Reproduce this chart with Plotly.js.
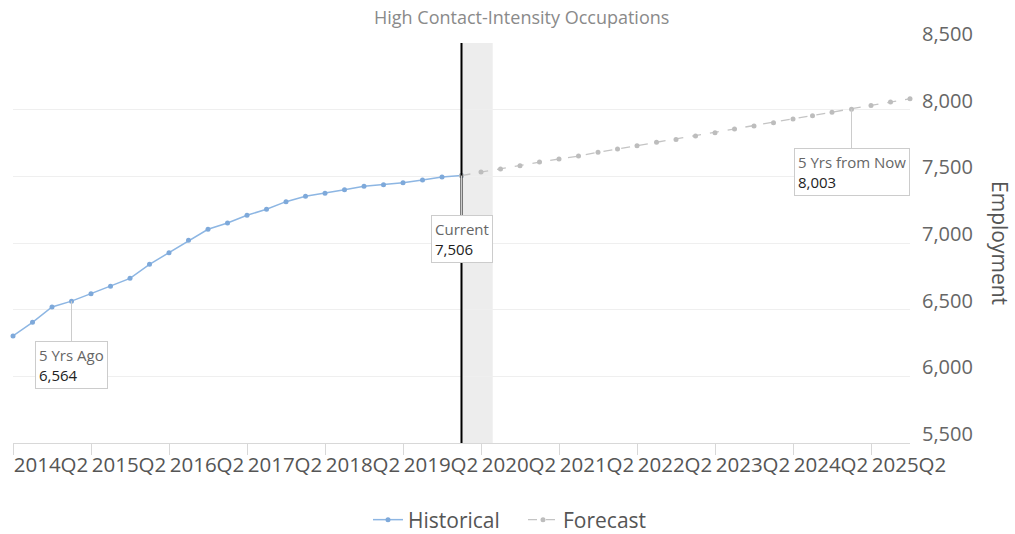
<!DOCTYPE html>
<html>
<head>
<meta charset="utf-8">
<script src="https://cdn.plot.ly/plotly-3.0.1.min.js"></script>
<style>
  html, body { margin: 0; padding: 0; background: #ffffff; }
  #chart { width: 1015px; height: 534px; }
</style>
</head>
<body>
<div id="chart"></div>
<script>
// Quarterly periods shown on the x axis
const quarters = [
  "2014Q2", "2014Q3", "2014Q4", "2015Q1", "2015Q2", "2015Q3", "2015Q4",
  "2016Q1", "2016Q2", "2016Q3", "2016Q4", "2017Q1", "2017Q2", "2017Q3", "2017Q4",
  "2018Q1", "2018Q2", "2018Q3", "2018Q4", "2019Q1", "2019Q2", "2019Q3", "2019Q4",
  "2020Q1", "2020Q2", "2020Q3", "2020Q4", "2021Q1", "2021Q2", "2021Q3", "2021Q4",
  "2022Q1", "2022Q2", "2022Q3", "2022Q4", "2023Q1", "2023Q2", "2023Q3", "2023Q4",
  "2024Q1", "2024Q2", "2024Q3", "2024Q4", "2025Q1", "2025Q2", "2025Q3", "2025Q4"
];

// Historical employment, 2014Q2 through the current quarter
const historicalQuarters = quarters.slice(0, 24);
const historicalValues = [
  6303, 6405, 6520, 6564, 6620, 6675, 6735, 6840, 6927, 7020, 7103, 7150,
  7208, 7253, 7310, 7350, 7373, 7400, 7425, 7437, 7452, 7472, 7495, 7506
];

// Forecast employment, from the current quarter onward
const forecastQuarters = quarters.slice(23);
const forecastValues = [
  7506, 7532, 7555, 7580, 7607, 7630, 7652, 7680, 7705, 7730, 7755, 7777,
  7802, 7827, 7855, 7877, 7902, 7930, 7955, 7980, 8003, 8032, 8057, 8082
];

// Year-interval tick labels
const tickLabels = [
  "2014Q2", "2015Q2", "2016Q2", "2017Q2", "2018Q2", "2019Q2",
  "2020Q2", "2021Q2", "2022Q2", "2023Q2", "2024Q2", "2025Q2"
];

// Callout points: five years back, current quarter, five years ahead
const fiveYrsAgo = { label: "5 Yrs Ago", quarter: historicalQuarters[3], value: historicalValues[3] };
const current = { label: "Current", quarter: historicalQuarters[23], value: historicalValues[23] };
const fiveYrsAhead = { label: "5 Yrs from Now", quarter: forecastQuarters[20], value: forecastValues[20] };

const FONT = "Open Sans, Liberation Sans, sans-serif";
const fmt = v => v.toLocaleString("en-US");

const traces = [
  {
    name: "Historical",
    x: historicalQuarters,
    y: historicalValues,
    type: "scatter",
    mode: "lines+markers",
    line: { color: "#8db6e3", width: 1.5 },
    marker: { color: "#7ea9da", size: 5 },
    cliponaxis: false,
    hoverinfo: "x+y"
  },
  {
    name: "Forecast",
    x: forecastQuarters,
    y: forecastValues,
    type: "scatter",
    mode: "lines+markers",
    line: { color: "#c4c4c4", width: 1.3, dash: "dash" },
    marker: { color: "#bdbdbd", size: 5 },
    cliponaxis: false,
    hoverinfo: "x+y"
  }
];

function callout(p, ay) {
  return {
    x: p.quarter, y: p.value, xref: "x", yref: "y",
    text: p.label + "<br><span style='color:#222'>" + fmt(p.value) + "</span>",
    align: "left",
    showarrow: true, arrowhead: 0, arrowwidth: 1, arrowcolor: "#cccccc",
    ax: 0, ay: ay, standoff: 0,
    bgcolor: "#ffffff", bordercolor: "#cccccc", borderwidth: 1, borderpad: 3,
    font: { family: FONT, size: 15, color: "#666666" }
  };
}

const layout = {
  width: 1015, height: 534,
  margin: { l: 13, r: 105, t: 43, b: 91 },
  paper_bgcolor: "#ffffff", plot_bgcolor: "#ffffff",
  title: {
    text: "High Contact-Intensity Occupations",
    xref: "container", x: 0.514, xanchor: "center",
    yref: "container", y: 0.966, yanchor: "middle",
    font: { family: FONT, size: 18, color: "#8a8a8a" }
  },
  xaxis: {
    type: "category",
    categoryorder: "array",
    categoryarray: quarters,
    range: [0, 46],
    tickmode: "array",
    tickvals: tickLabels,
    ticktext: tickLabels,
    ticks: "outside", ticklen: 11, tickcolor: "#d8d8d8", tickwidth: 1,
    ticklabelshift: 38,
    ticklabelstandoff: -8,
    tickangle: 0,
    showline: true, linecolor: "#d8d8d8", linewidth: 1,
    showgrid: false, zeroline: false,
    automargin: false,
    tickfont: { family: FONT, size: 20.5, color: "#555555" }
  },
  yaxis: {
    side: "right",
    range: [5500, 8500],
    tick0: 5500, dtick: 500,
    tickformat: ",",
    showgrid: true, gridcolor: "#efefef", gridwidth: 1,
    zeroline: false, showline: false, ticks: "",
    ticklabelshift: -9,
    ticklabelstandoff: 11,
    automargin: false,
    tickfont: { family: FONT, size: 20, color: "#666666" }
  },
  shapes: [
    // light band just after the current quarter
    { type: "rect", xref: "x", yref: "paper", x0: 23, x1: 24.6, y0: 0, y1: 1,
      fillcolor: "#ededed", line: { width: 0 }, layer: "below" },
    // current-quarter marker line
    { type: "line", xref: "x", yref: "paper", x0: 23, x1: 23, y0: 0, y1: 1,
      line: { color: "#000000", width: 2 }, layer: "above" }
  ],
  annotations: [
    callout(fiveYrsAgo, 64),
    callout(current, 63),
    callout(fiveYrsAhead, 63),
    {
      text: "Employment", xref: "paper", yref: "paper",
      x: 1.1003, y: 0.5, xanchor: "center", yanchor: "middle",
      textangle: 90, showarrow: false,
      font: { family: FONT, size: 21, color: "#555555" }
    }
  ],
  legend: {
    orientation: "h",
    xref: "container", x: 368 / 1015, xanchor: "left",
    yref: "container", y: 1 - 520 / 534, yanchor: "middle",
    entrywidth: 110,
    font: { family: FONT, size: 21, color: "#555555" },
    bgcolor: "rgba(0,0,0,0)"
  },
  showlegend: true
};

Plotly.newPlot("chart", traces, layout, { displayModeBar: false, staticPlot: true });
</script>
</body>
</html>
